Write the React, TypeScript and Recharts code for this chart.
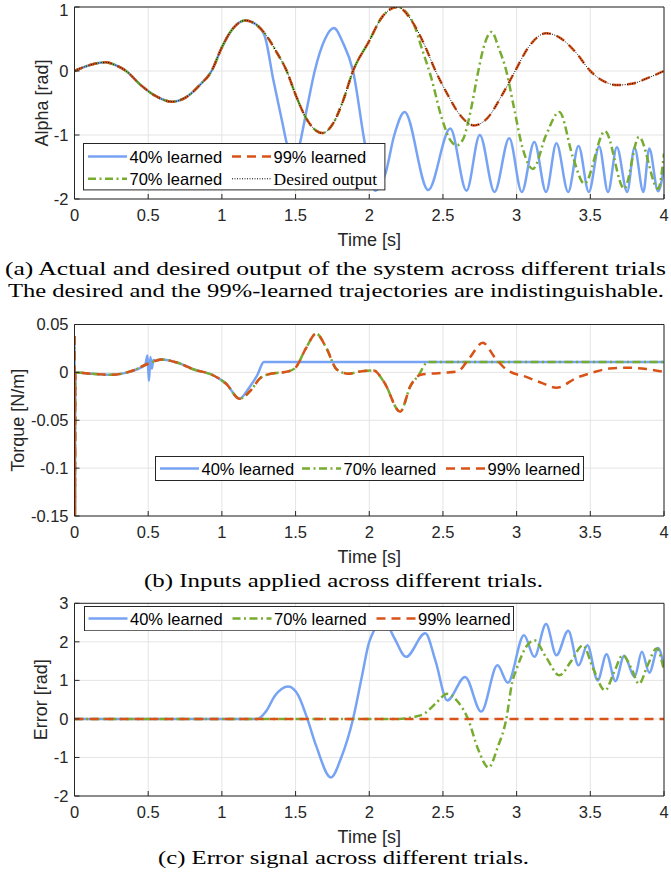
import React from 'react';
import { LineChart, Line, XAxis, YAxis, CartesianGrid, Legend } from 'recharts';

type Pt = [number, number];

// ---- (a) output alpha [rad] ----
const alphaDesired: Pt[] = [
  [0, 0], [0.1, 0.09], [0.21, 0.135], [0.28, 0.09], [0.35, 0], [0.45, -0.22], [0.55, -0.39],
  [0.66, -0.48], [0.75, -0.42], [0.85, -0.22], [0.93, 0], [1.0, 0.37], [1.07, 0.65], [1.16, 0.79],
  [1.23, 0.73], [1.3, 0.56], [1.37, 0.3], [1.44, 0], [1.5, -0.37], [1.58, -0.77], [1.68, -0.97],
  [1.76, -0.8], [1.82, -0.48], [1.89, 0], [2.0, 0.47], [2.08, 0.82], [2.19, 1.0], [2.3, 0.74],
  [2.38, 0.38], [2.45, 0], [2.53, -0.36], [2.61, -0.67], [2.71, -0.85], [2.8, -0.74], [2.9, -0.38],
  [2.99, 0], [3.08, 0.37], [3.2, 0.59], [3.3, 0.51], [3.4, 0.295], [3.5, 0], [3.6, -0.17],
  [3.68, -0.22], [3.78, -0.2], [3.9, -0.1], [4.0, 0],
];
const alpha40Tail: Pt[] = [
  [1.29, 0.55], [1.35, -0.15], [1.41, -0.8], [1.44, -1.13], [1.49, -1.5], [1.53, -1.13],
  [1.58, -0.55], [1.63, 0], [1.7, 0.5], [1.76, 0.67], [1.82, 0.45], [1.89, 0], [1.97, -1.13],
  [2.04, -1.87], [2.11, -1.6], [2.17, -1.0], [2.24, -0.64], [2.4, -1.86], [2.55, -0.9],
  [2.66, -1.87], [2.75, -1.0], [2.85, -1.89], [2.95, -1.05], [3.035, -1.89], [3.12, -1.11],
  [3.2, -1.89], [3.27, -1.13], [3.35, -1.89], [3.42, -1.17], [3.49, -1.89], [3.56, -1.18],
  [3.62, -1.89], [3.68, -1.19], [3.75, -1.89], [3.8, -1.2], [3.86, -1.89], [3.9, -1.21],
  [3.96, -1.88], [4.0, -1.5],
];
const alpha70Tail: Pt[] = [
  [2.36, 0.33], [2.42, -0.1], [2.49, -0.72], [2.55, -1.08], [2.595, -1.16], [2.64, -1.05],
  [2.69, -0.6], [2.74, 0], [2.78, 0.4], [2.83, 0.61], [2.88, 0.35], [2.93, 0], [2.98, -0.55],
  [3.04, -1.2], [3.11, -1.53], [3.2, -1.0], [3.29, -0.64], [3.38, -1.33], [3.46, -1.76],
  [3.6, -0.94], [3.73, -1.84], [3.83, -1.03], [3.96, -1.84], [4.0, -1.29],
];
const alpha40 = [...alphaDesired.filter(([t]) => t <= 1.23), ...alpha40Tail];
const alpha70 = [...alphaDesired.filter(([t]) => t <= 2.3), ...alpha70Tail];
const alpha99 = alphaDesired;

// ---- (b) torque [N/m] ----
const torqueStart: Pt[] = [
  [0, 0.038], [0.003, -0.15], [0.006, 0], [0.12, -0.0015], [0.25, -0.0025], [0.38, 0.001],
];
const torque40Wiggle: Pt[] = [
  [0.48, 0.008], [0.495, 0.0175], [0.505, -0.009], [0.515, 0.016], [0.525, 0.004],
  [0.535, 0.013], [0.55, 0.012],
];
const torqueMid: Pt[] = [
  [0.5, 0.009], [0.59, 0.0135], [0.7, 0.01], [0.81, 0.003], [0.94, -0.003], [1.03, -0.012],
  [1.12, -0.0275],
];
const torque40Tail: Pt[] = [[1.18, -0.017], [1.24, -0.003], [1.285, 0.0108], [4.0, 0.0108]];
const torqueShared: Pt[] = [
  [1.2, -0.018], [1.26, -0.006], [1.33, -0.0015], [1.45, 0.001], [1.5, 0.005], [1.57, 0.025],
  [1.64, 0.0405], [1.71, 0.025], [1.78, 0.003], [1.86, -0.0015], [1.94, 0.001], [2.03, 0.002],
  [2.1, -0.01], [2.21, -0.041], [2.28, -0.014],
];
const torque70Tail: Pt[] = [[2.33, -0.004], [2.4, 0.0108], [4.0, 0.0108]];
const torque99Tail: Pt[] = [
  [2.35, -0.0025], [2.5, -0.0005], [2.6, 0.001], [2.68, 0.015], [2.77, 0.031], [2.85, 0.016],
  [2.93, 0.003], [3.07, -0.005], [3.17, -0.011], [3.27, -0.016], [3.41, -0.0055], [3.52, 0],
  [3.63, 0.004], [3.75, 0.0049], [3.88, 0.0035], [4.0, 0.0006],
];
const torque40 = [...torqueStart, ...torque40Wiggle, ...torqueMid.filter(([t]) => t >= 0.59), ...torque40Tail];
const torque70 = [...torqueStart, ...torqueMid, ...torqueShared, ...torque70Tail];
const torque99 = [...torqueStart, ...torqueMid, ...torqueShared, ...torque99Tail];

// ---- (c) error [rad] ----
const error40: Pt[] = [
  [0, 0], [1.24, 0], [1.3, 0.2], [1.36, 0.6], [1.45, 0.84], [1.52, 0.6], [1.58, 0], [1.64, -0.7],
  [1.74, -1.52], [1.81, -1.0], [1.89, 0], [1.95, 1.1], [2.0, 2.0], [2.1, 2.55], [2.17, 2.1],
  [2.25, 1.61], [2.38, 2.22], [2.45, 1.5], [2.53, 0.48], [2.65, 1.09], [2.76, 0.19], [2.87, 1.39],
  [2.94, 0.94], [3.05, 2.17], [3.12, 1.61], [3.2, 2.46], [3.27, 1.65], [3.35, 2.29], [3.42, 1.39],
  [3.48, 1.91], [3.55, 1.0], [3.61, 1.68], [3.67, 0.98], [3.73, 1.64], [3.8, 1.09], [3.85, 1.74],
  [3.9, 1.2], [3.96, 1.84], [4.0, 1.35],
];
const error70: Pt[] = [
  [0, 0], [2.2, 0], [2.3, 0.05], [2.38, 0.15], [2.45, 0.4], [2.53, 0.65], [2.6, 0.45], [2.67, 0],
  [2.74, -0.8], [2.81, -1.26], [2.87, -0.75], [2.93, 0], [2.97, 0.95], [3.0, 1.3], [3.07, 1.9],
  [3.12, 2.04], [3.2, 1.6], [3.29, 1.13], [3.37, 1.5], [3.45, 1.91], [3.52, 1.3], [3.6, 0.74],
  [3.66, 1.2], [3.72, 1.65], [3.78, 1.3], [3.83, 0.91], [3.89, 1.4], [3.95, 1.83], [4.0, 1.25],
];
const error99: Pt[] = [[0, 0], [4.0, 0]];

const timeTicks = [0, 0.5, 1, 1.5, 2, 2.5, 3, 3.5, 4];
const alphaTicks = [-2, -1, 0, 1];
const torqueTicks = [-0.15, -0.1, -0.05, 0, 0.05];
const errorTicks = [-2, -1, 0, 1, 2, 3];

const SANS = '"Liberation Sans", Arial, sans-serif';
const SERIF = '"Liberation Serif", "Times New Roman", serif';
const AXIS = '#262626';
const GRID = '#e4e4e4';

type Series = { name: string; data: Pt[]; color: string; dash?: string; width: number; serif?: boolean };

const s40 = { name: '40% learned', color: '#77a3f5', width: 2.5 };
const s70 = { name: '70% learned', color: '#77ac30', dash: '8 3.5 2 3.5', width: 2.5 };
const s99 = { name: '99% learned', color: '#d95319', dash: '9 6', width: 2.5 };
const sDes = { name: 'Desired output', color: '#000000', dash: '1 1.5', width: 1, serif: true };

type LegendSpec = {
  left: number; top: number; width: number; height: number;
  items: { s: Series; x: number; y: number }[];
};

function LegendBox({ spec }: { spec: LegendSpec }) {
  return (
    <svg width={spec.width} height={spec.height} style={{ display: 'block' }}>
      <rect x={0.5} y={0.5} width={spec.width - 1} height={spec.height - 1} fill="#fff" stroke={AXIS} />
      {spec.items.map(({ s, x, y }) => (
        <g key={s.name}>
          <line x1={x} x2={x + 39} y1={y} y2={y} stroke={s.color} strokeWidth={s.width}
            strokeDasharray={s.dash} />
          <text x={x + 41.5} y={y} dominantBaseline="central" fill="#000"
            fontFamily={s.serif ? SERIF : SANS} fontSize={s.serif ? 17.5 : 16.5}>{s.name}</text>
        </g>
      ))}
    </svg>
  );
}

type PanelProps = {
  top: number; height: number; plotTop: number; plotBottom: number;
  yDomain: [number, number]; yTicks: number[]; yLabel: string; yLabelX: number;
  series: Series[]; legend: LegendSpec;
};

function Panel({ top, height, plotTop, plotBottom, yDomain, yTicks, yLabel, yLabelX, series, legend }: PanelProps) {
  const tickFont = { fontSize: 16.5, fill: AXIS, fontFamily: SANS };
  return (
    <div style={{ position: 'absolute', left: 0, top }}>
      <LineChart width={671} height={height} margin={{ top: plotTop - 1, right: 6, bottom: 0, left: 0 }}>
        <CartesianGrid stroke={GRID} strokeWidth={1} />
        <XAxis dataKey="t" type="number" domain={[0, 4]} ticks={timeTicks} allowDataOverflow
          height={height - plotBottom} tickSize={-5} tickMargin={15} tick={tickFont}
          axisLine={{ stroke: AXIS }} tickLine={{ stroke: AXIS }}
          label={{
            content: (p: any) => {
              const vb = p.viewBox || { x: 74.5, y: plotBottom, width: 589.5 };
              return (
                <text x={vb.x + vb.width / 2} y={plotBottom + 41} textAnchor="middle"
                  dominantBaseline="central" fontFamily={SANS} fontSize={18} fill={AXIS}>Time [s]</text>
              );
            },
          }} />
        <XAxis xAxisId="top" orientation="top" type="number" domain={[0, 4]} ticks={timeTicks}
          allowDataOverflow height={1} tickSize={-5} tick={false}
          axisLine={{ stroke: AXIS }} tickLine={{ stroke: AXIS }} />
        <YAxis type="number" domain={yDomain} ticks={yTicks} allowDataOverflow width={74.5}
          tickSize={-5} tickMargin={11} tick={tickFont}
          axisLine={{ stroke: AXIS }} tickLine={{ stroke: AXIS }}
          label={{
            content: () => {
              const cy = (plotTop + plotBottom) / 2;
              return (
                <text transform={`translate(${yLabelX},${cy}) rotate(-90)`} textAnchor="middle"
                  dominantBaseline="central" fontFamily={SANS} fontSize={18} fill={AXIS}>{yLabel}</text>
              );
            },
          }} />
        <YAxis yAxisId="right" orientation="right" type="number" domain={yDomain} ticks={yTicks}
          allowDataOverflow width={1} tickSize={-5} tick={false}
          axisLine={{ stroke: AXIS }} tickLine={{ stroke: AXIS }} />
        {series.map((s) => (
          <Line key={s.name} data={s.data.map(([t, v]) => ({ t, v }))} dataKey="v" type="monotone"
            stroke={s.color} strokeWidth={s.width} strokeDasharray={s.dash} dot={false}
            activeDot={false} isAnimationActive={false} />
        ))}
        <Legend layout="horizontal" verticalAlign="middle" align="center"
          wrapperStyle={{ left: legend.left, top: legend.top, width: legend.width, height: legend.height }}
          content={() => <LegendBox spec={legend} />} />
      </LineChart>
    </div>
  );
}

const captions = [
  { text: '(a) Actual and desired output of the system across different trials', x: 5, w: 661, y: 275 },
  { text: 'The desired and the 99%-learned trajectories are indistinguishable.', x: 8, w: 656, y: 297 },
  { text: '(b) Inputs applied across different trials.', x: 144, w: 399, y: 587 },
  { text: '(c) Error signal across different trials.', x: 158, w: 371, y: 864 },
];

export default function App() {
  const a40 = { ...s40, data: alpha40 };
  const a70 = { ...s70, data: alpha70 };
  const a99 = { ...s99, data: alpha99 };
  const aDes = { ...sDes, data: alphaDesired };
  const t40 = { ...s40, data: torque40 };
  const t70 = { ...s70, data: torque70 };
  const t99 = { ...s99, data: torque99 };
  const e40 = { ...s40, data: error40 };
  const e70 = { ...s70, data: error70 };
  const e99 = { ...s99, data: error99 };

  return (
    <div style={{ position: 'absolute', left: 0, top: 0, width: 671, height: 877, background: '#fff', overflow: 'hidden' }}>
      <svg width={671} height={877} style={{ position: 'absolute', left: 0, top: 0 }}>
        {captions.map((c) => (
          <text key={c.text} x={c.x} y={c.y} textLength={c.w} lengthAdjust="spacingAndGlyphs"
            fontFamily={SERIF} fontSize={18.5} fill="#000">{c.text}</text>
        ))}
      </svg>
      <Panel top={0} height={260} plotTop={7} plotBottom={199} yDomain={[-2, 1]} yTicks={alphaTicks}
        yLabel="Alpha [rad]" yLabelX={41.5} series={[a40, a70, a99, aDes]}
        legend={{
          left: 83.3, top: 143.3, width: 302.4, height: 47.4,
          items: [
            { s: a40, x: 5, y: 13.5 }, { s: a99, x: 149, y: 13.5 },
            { s: a70, x: 5, y: 35.8 }, { s: aDes, x: 149, y: 35.8 },
          ],
        }} />
      <Panel top={300} height={280} plotTop={24.5} plotBottom={216} yDomain={[-0.15, 0.05]} yTicks={torqueTicks}
        yLabel="Torque [N/m]" yLabelX={18} series={[t40, t70, t99]}
        legend={{
          left: 155, top: 155.7, width: 429, height: 25,
          items: [{ s: t40, x: 5, y: 12.5 }, { s: t70, x: 147, y: 12.5 }, { s: t99, x: 291, y: 12.5 }],
        }} />
      <Panel top={580} height={280} plotTop={23.3} plotBottom={216} yDomain={[-2, 3]} yTicks={errorTicks}
        yLabel="Error [rad]" yLabelX={41} series={[e40, e70, e99]}
        legend={{
          left: 83.5, top: 25.7, width: 430, height: 25.3,
          items: [{ s: e40, x: 4.5, y: 12.6 }, { s: e70, x: 148.5, y: 12.6 }, { s: e99, x: 292.5, y: 12.6 }],
        }} />
    </div>
  );
}
